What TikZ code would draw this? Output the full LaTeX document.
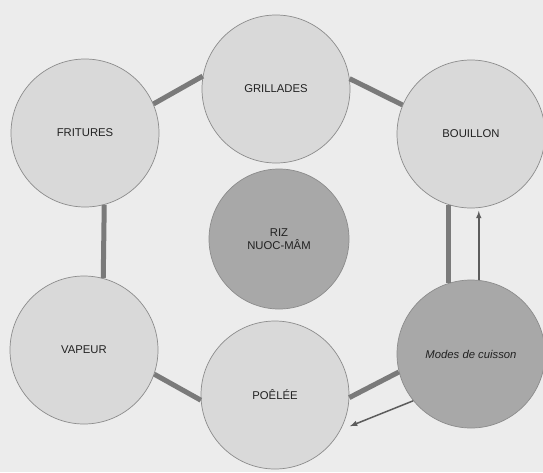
\documentclass[tikz,border=0pt]{standalone}
\usepackage{fontspec}
\setmainfont{Liberation Sans}
\usepackage{tikz}
\usetikzlibrary{arrows}
\tikzset{mode/.style = {circle, draw = mline, line width = 0.7, fill = mlight, minimum size = 148, inner sep = 0, text = mtext, font = \fontsize{11.3}{13}\selectfont, align = center}}
\tikzset{core/.style = {mode, fill = mdark, minimum size = 140}}
\tikzset{link/.style = {line width = 5, mgray}}
\tikzset{flow/.style = {-latex, line width = 1.5, mgrayd}}
\definecolor{mbg}{rgb}{0.925, 0.925, 0.925}
\definecolor{mlight}{rgb}{0.85, 0.85, 0.85}
\definecolor{mdark}{rgb}{0.66, 0.66, 0.66}
\definecolor{mline}{rgb}{0.55, 0.55, 0.55}
\definecolor{mgray}{rgb}{0.48, 0.48, 0.48}
\definecolor{mgrayd}{rgb}{0.36, 0.36, 0.36}
\definecolor{mtext}{rgb}{0.13, 0.13, 0.13}
\begin{document}
\begin{tikzpicture}[x = 1pt, y = -1pt]
    \useasboundingbox (0, 0) rectangle (543, 472);
    \clip (0, 0) rectangle (543, 472);
    \fill [mbg] (0, 0) rectangle (543, 472);

    \node [mode] (gri) at (276, 89) {GRILLADES};
    \node [mode] (fri) at (85, 133) {FRITURES};
    \node [mode] (bou) at (471, 134) {BOUILLON};
    \node [core] (riz) at (279, 239) {RIZ\\NUOC-MÂM};
    \node [mode] (vap) at (84, 350) {VAPEUR};
    \node [mode] (poe) at (275, 395) {POÊLÉE};
    \node [mode, fill = mdark] (mod) at (471, 354) {\itshape Modes de cuisson};

    \draw [link] (fri.23) -- (gri.170);
    \draw [link] (gri.8) -- (bou.157);
    \draw [link] (fri.-75) -- (vap.75);
    \draw [link] (bou.-108) -- (mod.108);
    \draw [link] (vap.-19) -- (poe.184);
    \draw [link] (poe.-2) -- (mod.194);

    \draw [flow, shorten > = 3] (mod.84) -- (bou.-84);
    \draw [flow, shorten > = 10] (mod.219) -- (poe.-28);
  \end{tikzpicture}
\end{document}
